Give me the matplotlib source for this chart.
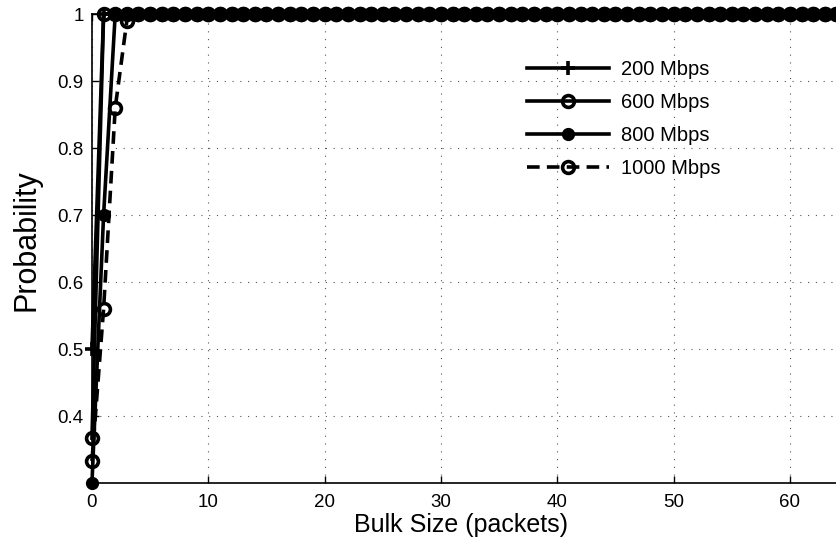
import numpy as np
import matplotlib.pyplot as plt

plt.rcParams['font.family'] = ['Liberation Sans', 'DejaVu Sans']

# bulk size (packets) and cumulative probability per link rate
bulk = np.arange(0, 66)
head_200 = [0.50]
head_600 = [0.367]
head_800 = [0.30, 0.70]
head_1000 = [0.333, 0.56, 0.86, 0.99]
labels = ['200 Mbps', '600 Mbps', '800 Mbps', '1000 Mbps']


def cdf(head):
    return np.array(head + [1.0] * (len(bulk) - len(head)))


p200 = cdf(head_200)
p600 = cdf(head_600)
p800 = cdf(head_800)
p1000 = cdf(head_1000)

fig = plt.figure(figsize=(8.36, 5.43), dpi=100)
ax = fig.add_axes([0.110, 0.1105, 0.9045, 0.8637])

lw = 2.6
ax.plot(bulk, p200, '-', color='k', lw=lw, marker='+', ms=10, mew=2.6,
        label=labels[0], clip_on=False, zorder=3)
ax.plot(bulk, p600, '-', color='k', lw=lw, marker='o', ms=8.5, mew=2.6,
        mfc='none', label=labels[1], clip_on=False, zorder=3)
ax.plot(bulk, p800, '-', color='k', lw=lw, marker='o', ms=8.5, mew=1,
        mfc='k', label=labels[2], clip_on=False, zorder=3)
ax.plot(bulk, p1000, linestyle=(0, (3.5, 2)), color='k', lw=lw, marker='o', ms=8.5,
        mew=2.6, mfc='none', label=labels[3], clip_on=False, zorder=3)

ax.set_xlim(0, 65)
ax.set_ylim(0.3, 1.0)
ax.set_xticks(range(0, 61, 10))
ax.set_yticks([0.4, 0.5, 0.6, 0.7, 0.8, 0.9, 1.0])
ax.set_yticklabels(['0.4', '0.5', '0.6', '0.7', '0.8', '0.9', '1'])
ax.tick_params(direction='in', labelsize=13.5, length=5, width=1,
               top=True, right=True)
ax.tick_params(axis='x', pad=8)
ax.tick_params(axis='y', pad=6)
ax.grid(True, linestyle=(0, (1, 6)), color='#555555', lw=0.8)
for s in ax.spines.values():
    s.set_linewidth(1.2)

ax.set_xlabel('Bulk Size (packets)', fontsize=18)
ax.set_ylabel('Probability', fontsize=22)
ax.xaxis.set_label_coords(0.488, -0.064)
ax.yaxis.set_label_coords(-0.067, 0.518)

leg = ax.legend(loc='upper left', bbox_to_anchor=(517 / 836, 1 - 50 / 543),
                bbox_transform=fig.transFigure, frameon=False, borderpad=0,
                fontsize=14.5, handlelength=4.05, labelspacing=0.7,
                handletextpad=0.6)

fig.savefig('out.png', dpi=100)
